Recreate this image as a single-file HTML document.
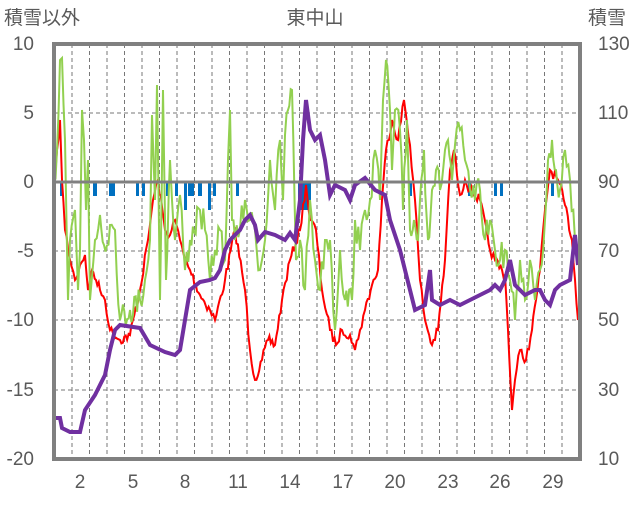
<!DOCTYPE html>
<html><head><meta charset="utf-8"><style>
body{margin:0;background:#fff;width:636px;height:501px;overflow:hidden}
text{font-family:"Liberation Sans","Noto Sans CJK JP",sans-serif;fill:#595959}
</style></head><body>
<svg id="s" width="636" height="501" viewBox="0 0 636 501">
<text x="4" y="24" font-size="19">積雪以外</text>
<text x="315" y="24" font-size="19" text-anchor="middle">東中山</text>
<text x="588" y="24" font-size="19">積雪</text>
<g font-size="19" text-anchor="end">
<text x="34" y="50">10</text><text x="34" y="119">5</text><text x="34" y="188">0</text>
<text x="34" y="257">-5</text><text x="34" y="326">-10</text><text x="34" y="396">-15</text><text x="34" y="465">-20</text>
</g>
<g font-size="19">
<text x="598" y="50">130</text><text x="598" y="119">110</text><text x="598" y="188">90</text>
<text x="598" y="257">70</text><text x="598" y="326">50</text><text x="598" y="396">30</text><text x="598" y="465">10</text>
</g>
<g font-size="19" text-anchor="middle">
<text x="80" y="488">2</text><text x="133" y="488">5</text><text x="185" y="488">8</text><text x="238" y="488">11</text>
<text x="290" y="488">14</text><text x="343" y="488">17</text><text x="395" y="488">20</text><text x="448" y="488">23</text>
<text x="500" y="488">26</text><text x="553" y="488">29</text>
</g>
<g stroke="#777" stroke-dasharray="4,3" stroke-width="1">
<path d="M54 113H580M54 251H580M54 320H580M54 390H580"/>
<path d="M72 44V459M89.5 44V459M107 44V459M124.5 44V459M142 44V459M159.5 44V459M177 44V459M194.5 44V459M212 44V459M229.5 44V459M247 44V459M264.5 44V459M282 44V459M299.5 44V459M317 44V459M334.5 44V459M352 44V459M369.5 44V459M387 44V459M404.5 44V459M422 44V459M439.5 44V459M457 44V459M474.5 44V459M492 44V459M509.5 44V459M527 44V459M544.5 44V459M562 44V459"/>
</g>
<g fill="#0070c0">
<rect x="60" y="182" width="3" height="14"/><rect x="93" y="182" width="4" height="14"/><rect x="109" y="182" width="6" height="14"/>
<rect x="136" y="182" width="3" height="14"/><rect x="142" y="182" width="3" height="14"/><rect x="166" y="182" width="3" height="14"/>
<rect x="175" y="182" width="3" height="14"/><rect x="184" y="182" width="3" height="28"/><rect x="188" y="182" width="6" height="14"/>
<rect x="198" y="182" width="4" height="14"/><rect x="208" y="182" width="3" height="28"/><rect x="213" y="182" width="3" height="14"/>
<rect x="236" y="182" width="3" height="14"/><rect x="298" y="182" width="13" height="28"/><rect x="409" y="182" width="3" height="14"/>
<rect x="468" y="182" width="3" height="14"/><rect x="494" y="182" width="3" height="14"/><rect x="500" y="182" width="3" height="14"/>
<rect x="551" y="182" width="3" height="14"/>
</g>
<polyline id="r" fill="none" stroke="#ff0000" stroke-width="2" points="54,200 57,150 60,120 62,180 65,230 70,260 75,280 80,265 85,255 88,290 92,270 96,280 100,290 105,300 110,330 120,340 130,335 140,290 148,240 153,200 158,180 165,230 170,235 175,220 180,240 185,260 190,270 200,295 210,310 215,320 225,280 235,230 245,290 250,350 255,380 262,360 268,340 275,345 282,300 290,260 300,230 306,185 310,220 316,230 322,290 330,330 336,345 342,330 350,335 355,350 360,330 365,310 372,285 378,270 382,200 386,150 392,120 398,140 404,100 410,145 415,200 420,280 425,320 432,345 438,330 445,260 450,170 454,150 460,195 465,180 470,190 480,200 490,250 495,260 505,275 508,330 512,410 515,380 520,350 526,360 532,330 536,300 540,270 545,210 550,170 558,180 565,205 572,240 578,320"/>
<polyline id="g" fill="none" stroke="#92d050" stroke-width="2" points="54,180 57,150 60,60 62,58 65,140 68,300 70,240 75,210 78,290 80,250 82,110 84,140 86,210 88,160 90,300 95,240 100,215 104,245 110,225 115,230 120,320 130,310 140,300 145,280 150,240 152,115 155,200 157,85 160,300 163,90 166,280 170,160 172,200 175,240 180,195 185,270 190,240 200,210 205,230 210,280 215,250 220,230 225,260 228,160 230,110 232,220 235,240 240,230 245,200 250,220 255,230 260,270 265,240 270,160 275,210 280,140 283,200 285,135 288,110 292,90 296,260 300,240 305,290 310,200 315,260 320,290 325,240 330,240 335,330 340,250 345,300 352,300 355,220 360,250 365,210 370,200 375,150 380,200 383,100 386,60 390,110 392,170 395,110 400,130 403,210 407,120 410,230 414,220 418,240 420,200 424,150 428,240 432,190 436,170 440,190 445,150 448,140 452,180 455,145 460,130 465,160 470,190 475,200 480,190 485,240 490,220 495,250 500,260 505,250 510,280 515,320 520,260 525,300 530,260 535,300 540,270 545,220 548,160 552,140 556,170 560,190 565,150 570,180 575,240 578,250"/>
<polyline fill="none" stroke="#7030a0" stroke-width="4" points="54,418 60,418 62,428 70,432 80,432 85,410 95,395 105,375 110,350 115,330 120,325 140,328 150,345 165,352 175,355 180,350 185,320 190,290 200,282 210,280 215,278 220,270 225,250 230,240 240,230 245,220 250,215 255,225 258,240 265,232 275,235 285,240 290,233 295,240 300,200 303,140 306,100 310,130 315,140 320,135 325,160 330,195 335,185 345,190 350,200 355,185 365,178 375,190 385,195 390,220 400,250 410,290 415,310 425,305 430,270 432,300 440,305 450,300 460,305 470,300 480,295 490,290 495,285 500,290 505,280 510,260 515,285 525,295 535,290 540,290 545,300 550,305 555,290 560,285 570,280 575,235 578,265"/>
<path d="M54 182H580" stroke="#808080" stroke-width="3"/>
<rect x="54" y="44" width="526" height="415" fill="none" stroke="#808080" stroke-width="4"/>
</svg>
<script>
var seed=7;function rnd(){seed=(seed*16807)%2147483647;return seed/2147483647;}
function rough(id,amp,step){var el=document.getElementById(id);var p=el.getAttribute('points').trim().split(/\s+/).map(function(s){return s.split(',').map(Number)});
var out=[];for(var i=0;i<p.length-1;i++){var a=p[i],b=p[i+1];var n=Math.max(1,Math.round((b[0]-a[0])/step));for(var k=0;k<n;k++){var t=k/n;var x=a[0]+(b[0]-a[0])*t,y=a[1]+(b[1]-a[1])*t;if(k>0)y+=(rnd()-0.5)*amp;y=Math.max(46,Math.min(457,y));out.push(x.toFixed(1)+','+y.toFixed(1));}}
out.push(p[p.length-1].join(','));el.setAttribute('points',out.join(' '));}
rough('r',10,1.5);rough('g',30,1.5);
</script>
</body></html>
